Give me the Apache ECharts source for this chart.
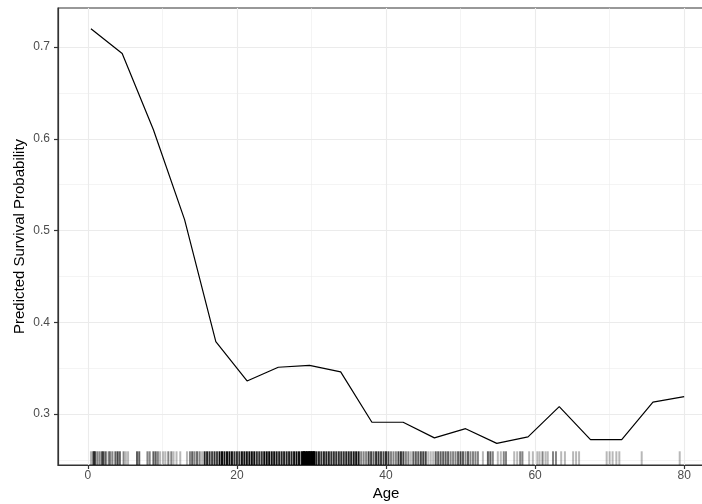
<!DOCTYPE html>
<html>
<head>
<meta charset="utf-8">
<script src="https://cdn.jsdelivr.net/npm/echarts@6/dist/echarts.min.js"></script>
<style>
html, body { margin: 0; padding: 0; background: #ffffff; }
#chart { width: 702px; height: 504px; }
</style>
</head>
<body>
<div id="chart"></div>
<script>
// Partial dependence of predicted survival on passenger age
const ageGrid = [0.42, 4.61, 8.80, 12.98, 17.17, 21.36, 25.55, 29.74, 33.92, 38.11,
                 42.30, 46.49, 50.68, 54.86, 59.05, 63.24, 67.43, 71.62, 75.81, 80.00];
const survivalProb = [0.720, 0.693, 0.610, 0.512, 0.379, 0.336, 0.351, 0.353, 0.346, 0.291,
                      0.291, 0.274, 0.284, 0.268, 0.275, 0.308, 0.272, 0.272, 0.313, 0.319];

// Rug of observed ages: [age, number of overlapping ticks]
const rugTicks = [
  [0.42,1],[0.67,1],[0.75,2],[0.83,2],[0.92,1],
  [1.0,3],[1.3,2],[1.6,2],[1.9,3],[2.1,4],[2.4,3],[2.8,2],[3.0,2],[3.3,2],
  [3.7,3],[4.0,4],[4.3,3],[4.8,2],[5.1,1],[5.4,1],
  [6.6,3],[6.9,3],
  [8.0,2],[8.3,2],[8.8,3],[9.1,3],[9.4,2],[9.7,1],
  [10.1,1],[10.4,1],[10.8,2],[11.2,2],[11.5,1],[11.9,1],[12.4,1],
  [13.3,1],[13.7,2],[14.0,3],[14.3,2],[14.6,1],
  [14.67,2],[15.0,2],[15.33,1],
  [15.67,6],[16.0,6],[16.33,5],
  [16.67,4],[17.0,5],[17.33,4],
  [17.67,9],[18.0,9],[18.33,8],
  [18.67,8],[19.0,9],[19.33,8],
  [19.67,5],[20.0,5],[20.33,5],
  [20.67,8],[21.0,8],[21.33,8],
  [21.67,9],[22.0,9],[22.33,9],
  [22.67,5],[23.0,5],[23.33,5],
  [23.67,10],[24.0,10],[24.33,10],
  [24.67,8],[25.0,8],[25.33,7],
  [25.67,6],[26.0,6],[26.33,6],
  [26.67,6],[27.0,6],[27.33,6],
  [27.67,8],[28.0,9],[28.33,8],
  [28.67,7],[29.0,7],[29.33,6],
  [29.67,8],[30.0,9],[30.33,8],
  [30.67,6],[31.0,6],[31.33,5],
  [31.67,6],[32.0,6],[32.33,6],
  [32.67,5],[33.0,5],[33.33,5],
  [33.67,5],[34.0,5],[34.33,5],
  [34.67,6],[35.0,6],[35.33,6],
  [35.67,7],[36.0,8],[36.33,7],
  [36.67,2],[37.0,2],[37.33,2],
  [37.67,4],[38.0,4],[38.33,3],
  [38.67,5],[39.0,5],[39.33,4],
  [39.67,4],[40.0,5],[40.33,4],
  [40.67,2],[41.0,2],[41.33,2],
  [41.67,4],[42.0,5],[42.33,4],
  [42.67,2],[43.0,2],[43.33,1],
  [43.67,3],[44.0,3],[44.33,3],
  [44.67,4],[45.0,4],[45.33,4],
  [45.67,1],[46.0,1],[46.33,1],
  [46.67,3],[47.0,3],[47.33,3],
  [47.67,3],[48.0,3],[48.33,3],
  [48.67,2],[49.0,2],[49.33,2],
  [49.67,3],[50.0,4],[50.33,3],
  [50.67,2],[51.0,3],[51.33,2],
  [51.67,2],[52.0,2],[52.33,2],
  [53.0,1],
  [53.67,3],[54.0,3],[54.33,2],
  [28.8,20],[29.0,20],[29.2,20],[29.4,20],[29.6,20],[29.8,20],[30.0,20],[30.2,20],[30.4,17],
  [55.0,1],[55.4,1],[55.8,2],[56.1,2],[57.2,1],[57.6,1],[58.0,2],[58.3,2],[59.2,1],[59.7,1],
  [60.3,1],[60.6,1],[61.0,2],[61.4,1],[61.7,1],[62.4,2],[62.8,2],[63.5,1],[64.0,1],
  [65.1,1],[65.5,1],[65.9,1],[69.6,1],[70.0,1],[70.4,1],[70.9,1],[71.3,1],[74.3,1],[79.4,1]
];

const xTickValues = [0, 20, 40, 60, 80];
const yTickValues = [0.3, 0.4, 0.5, 0.6, 0.7];

const FONT = '"Liberation Sans", Arial, Helvetica, sans-serif';
const RUG_ALPHA = 0.28;

const chart = echarts.init(document.getElementById('chart'), null, { renderer: 'canvas' });

const gridStyle = { color: '#ebebeb', width: 1.1 };
const minorGridStyle = { color: '#ebebeb', width: 0.55 };
const borderLine = { show: true, onZero: false, lineStyle: { color: '#333333', width: 1.2 } };
const tickStyle = { color: '#333333', width: 1.2 };

chart.setOption({
  animation: false,
  backgroundColor: '#ffffff',
  grid: {
    left: 58, top: 8, width: 656, height: 457,
    containLabel: false, outerBoundsMode: 'none',
    show: true, borderColor: '#333333', borderWidth: 1.2, backgroundColor: 'transparent'
  },
  xAxis: {
    type: 'value', min: -4, max: 84,
    name: 'Age', nameLocation: 'middle', nameGap: 21, nameMoveOverlap: false,
    nameTextStyle: { color: '#000000', fontSize: 15, fontFamily: FONT },
    axisLine: borderLine,
    axisTick: { show: true, inside: false, customValues: xTickValues, length: 4, lineStyle: tickStyle },
    axisLabel: { customValues: xTickValues, color: '#4d4d4d', fontSize: 12, fontFamily: FONT, margin: 5 },
    splitLine: { show: true, lineStyle: gridStyle },
    minorTick: { show: false, splitNumber: 2 },
    minorSplitLine: { show: true, lineStyle: minorGridStyle }
  },
  yAxis: {
    type: 'value', min: 0.2444, max: 0.7427,
    name: 'Predicted Survival Probability', nameLocation: 'middle', nameGap: 31, nameMoveOverlap: false,
    nameTextStyle: { color: '#000000', fontSize: 15, fontFamily: FONT },
    axisLine: borderLine,
    axisTick: { show: true, inside: false, customValues: yTickValues, length: 4, lineStyle: tickStyle },
    axisLabel: { customValues: yTickValues, color: '#4d4d4d', fontSize: 12, fontFamily: FONT, margin: 8,
                 formatter: v => v.toFixed(1) },
    splitLine: { show: true, lineStyle: gridStyle },
    minorTick: { show: false, splitNumber: 2 },
    minorSplitLine: { show: true, lineStyle: minorGridStyle }
  },
  series: [
    {
      type: 'custom',
      silent: true,
      encode: { x: 0 },
      data: rugTicks,
      z: 3,
      renderItem: (params, api) => {
        const cs = params.coordSys;
        const x = api.coord([api.value(0), 0.5])[0];
        const yb = cs.y + cs.height;
        const h = cs.height * 0.03;
        const n = api.value(1);
        return {
          type: 'line',
          shape: { x1: x, y1: yb, x2: x, y2: yb - h },
          style: { stroke: '#000000', lineWidth: 2, opacity: 1 - Math.pow(1 - RUG_ALPHA, n) }
        };
      }
    },
    {
      type: 'line',
      data: ageGrid.map((a, i) => [a, survivalProb[i]]),
      showSymbol: false,
      symbol: 'none',
      z: 4,
      lineStyle: { color: '#000000', width: 1.2 }
    }
  ]
});
</script>
</body>
</html>
